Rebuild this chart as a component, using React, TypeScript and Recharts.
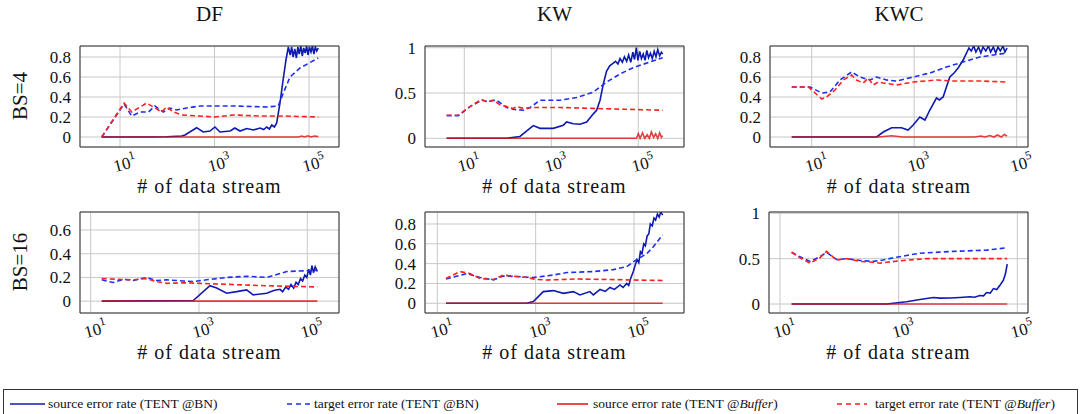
import React from "react";
import { LineChart, Line, XAxis, YAxis, CartesianGrid } from "recharts";

type Pt = [number, number];

const FONT = "Liberation Serif";

// series colours
const SRC_BN = "#0d1ab0";
const TGT_BN = "#1f2ff0";
const SRC_BUF = "#e01010";
const TGT_BUF = "#ff2020";

const columnTitles = ["DF", "KW", "KWC"];
const rowTitles = ["BS=4", "BS=16"];
const xTicks = [10, 1000, 100000];
const xLabel = "# of data stream";

// ---- DF, BS=4 ----
const dfB4SrcBN: Pt[] = [[4.1, 0], [50, 0], [97, 0.003], [202, 0.01], [238, 0.02], [417, 0.093], [576, 0.05], [803, 0.06], [1020, 0.1], [1307, 0.05], [2140, 0.06], [2690, 0.09], [3470, 0.06], [4800, 0.085], [6640, 0.07], [9180, 0.09], [11000, 0.075], [12700, 0.1], [14500, 0.08], [16300, 0.12], [18500, 0.1], [20700, 0.14], [24300, 0.34], [27700, 0.54], [32500, 0.77], [36500, 0.9], [40000, 0.82], [43000, 0.9], [46000, 0.8], [50000, 0.88], [54000, 0.79], [58000, 0.9], [62000, 0.83], [67000, 0.91], [72000, 0.81], [77000, 0.89], [83000, 0.84], [89000, 0.91], [95000, 0.82], [102000, 0.9], [110000, 0.85], [118000, 0.91], [127000, 0.83], [136000, 0.9], [146000, 0.86], [157000, 0.89]];
const dfB4TgtBN: Pt[] = [[4.1, 0], [12.2, 0.33], [17.7, 0.21], [26.5, 0.25], [40, 0.25], [55, 0.31], [83, 0.25], [114, 0.29], [158, 0.27], [258, 0.29], [490, 0.31], [2500, 0.31], [12600, 0.3], [22300, 0.31], [28600, 0.44], [39600, 0.6], [64600, 0.69], [157000, 0.79]];
const dfB4SrcBuf: Pt[] = [[4.1, 0], [60000, 0], [70000, 0.01], [80000, 0], [95000, 0.012], [110000, 0], [130000, 0.01], [157000, 0.004]];
const dfB4TgtBuf: Pt[] = [[4.1, 0], [12.2, 0.34], [17.7, 0.25], [36.6, 0.34], [50.7, 0.3], [76, 0.25], [97, 0.3], [135, 0.25], [202, 0.22], [490, 0.21], [1000, 0.2], [2500, 0.22], [9100, 0.21], [28600, 0.21], [157000, 0.2]];

// ---- KW, BS=4 ----
const kwB4SrcBN: Pt[] = [[3.93, 0], [94, 0], [190, 0.02], [385, 0.14], [550, 0.11], [1110, 0.11], [1890, 0.145], [2250, 0.18], [3200, 0.16], [4570, 0.155], [6500, 0.18], [9250, 0.27], [11000, 0.31], [13200, 0.42], [15700, 0.6], [18600, 0.74], [22000, 0.8], [26600, 0.83], [30000, 0.85], [34000, 0.82], [38000, 0.88], [43000, 0.84], [48000, 0.9], [54000, 0.85], [60000, 0.92], [67000, 0.84], [75000, 0.95], [82000, 0.87], [90000, 1.0], [98000, 0.86], [108000, 0.96], [118000, 0.88], [130000, 0.93], [143000, 0.86], [157000, 0.97], [172000, 0.89], [190000, 0.94], [210000, 0.88], [232000, 0.96], [255000, 0.9], [280000, 0.98], [310000, 0.91], [340000, 0.95], [363000, 0.93]];
const kwB4TgtBN: Pt[] = [[3.93, 0.25], [7.3, 0.25], [13.5, 0.35], [25, 0.42], [32.5, 0.41], [55, 0.42], [94, 0.34], [134, 0.32], [227, 0.31], [324, 0.34], [550, 0.42], [1580, 0.42], [3800, 0.45], [9250, 0.51], [18600, 0.62], [38000, 0.71], [76700, 0.78], [155000, 0.83], [363000, 0.89]];
const kwB4SrcBuf: Pt[] = [[3.93, 0], [91000, 0], [100000, 0.05], [110000, 0], [125000, 0.06], [140000, 0], [160000, 0.04], [180000, 0], [200000, 0.07], [225000, 0.01], [250000, 0.05], [280000, 0], [310000, 0.06], [340000, 0.01], [363000, 0.03]];
const kwB4TgtBuf: Pt[] = [[3.93, 0.254], [7.3, 0.254], [13.5, 0.35], [25, 0.43], [32.5, 0.4], [46.4, 0.42], [66, 0.37], [94, 0.35], [134, 0.33], [159, 0.35], [227, 0.33], [385, 0.34], [1580, 0.34], [9250, 0.33], [53700, 0.32], [363000, 0.31]];

// ---- KWC, BS=4 ----
const kwcB4SrcBN: Pt[] = [[4.08, 0], [185, 0], [249, 0.05], [363, 0.093], [563, 0.093], [760, 0.07], [956, 0.12], [1290, 0.2], [1620, 0.17], [2020, 0.27], [2720, 0.39], [3100, 0.37], [3670, 0.4], [4950, 0.6], [6000, 0.64], [7200, 0.69], [9020, 0.77], [11700, 0.89], [13000, 0.86], [14500, 0.91], [16000, 0.85], [18000, 0.9], [20000, 0.84], [22000, 0.9], [25000, 0.86], [28000, 0.91], [31000, 0.85], [35000, 0.9], [39000, 0.84], [43000, 0.9], [48000, 0.86], [54000, 0.91], [59000, 0.85], [64800, 0.89]];
const kwcB4TgtBN: Pt[] = [[4.08, 0.5], [9.3, 0.5], [15.7, 0.44], [22.8, 0.45], [35.5, 0.57], [60, 0.65], [87, 0.6], [137, 0.57], [185, 0.6], [288, 0.57], [453, 0.56], [956, 0.6], [2020, 0.64], [4270, 0.7], [9020, 0.75], [19000, 0.8], [34700, 0.82], [64800, 0.84]];
const kwcB4SrcBuf: Pt[] = [[4.08, 0], [200, 0], [363, 0.013], [600, 0], [15000, 0], [20000, 0.01], [24000, 0], [30000, 0.015], [36000, 0], [42000, 0.02], [50000, 0], [57000, 0.025], [64800, 0.01]];
const kwcB4TgtBuf: Pt[] = [[4.08, 0.5], [8.6, 0.5], [15.7, 0.38], [19.6, 0.4], [28.5, 0.47], [41.4, 0.57], [60, 0.62], [75, 0.57], [101, 0.54], [127, 0.59], [158, 0.52], [199, 0.55], [249, 0.54], [453, 0.52], [956, 0.55], [2720, 0.57], [5750, 0.56], [19000, 0.56], [64800, 0.55]];

// ---- DF, BS=16 ----
const dfB16SrcBN: Pt[] = [[16, 0], [785, 0.005], [1590, 0.13], [2120, 0.11], [3240, 0.067], [4950, 0.08], [7580, 0.095], [10000, 0.053], [17800, 0.067], [24000, 0.09], [31400, 0.1], [35000, 0.08], [40000, 0.12], [45000, 0.1], [50000, 0.14], [56000, 0.11], [62000, 0.16], [68000, 0.14], [75000, 0.19], [82000, 0.17], [90000, 0.22], [98000, 0.2], [106000, 0.27], [114000, 0.22], [122000, 0.3], [130000, 0.24], [140000, 0.29], [153000, 0.25]];
const dfB16TgtBN: Pt[] = [[16, 0.18], [26, 0.157], [40, 0.185], [61, 0.174], [108, 0.2], [165, 0.174], [253, 0.18], [513, 0.17], [785, 0.165], [1380, 0.18], [3240, 0.2], [7580, 0.21], [17800, 0.2], [41700, 0.25], [153000, 0.26]];
const dfB16SrcBuf: Pt[] = [[16, 0], [1000, 0], [100000, 0], [153000, 0]];
const dfB16TgtBuf: Pt[] = [[16, 0.19], [30, 0.185], [61, 0.18], [108, 0.19], [165, 0.165], [253, 0.15], [513, 0.155], [1040, 0.15], [4300, 0.14], [17800, 0.13], [153000, 0.12]];

// ---- KW, BS=16 ----
const kwB16SrcBN: Pt[] = [[15, 0], [656, 0], [898, 0.017], [1430, 0.118], [2290, 0.128], [3660, 0.1], [5840, 0.118], [7940, 0.084], [12700, 0.118], [14900, 0.084], [20400, 0.14], [26000, 0.12], [32500, 0.16], [40000, 0.14], [51900, 0.185], [60000, 0.16], [71000, 0.2], [78000, 0.18], [85300, 0.25], [96800, 0.32], [105000, 0.38], [115000, 0.44], [125000, 0.41], [135000, 0.52], [145000, 0.5], [158000, 0.6], [170000, 0.58], [185000, 0.68], [200000, 0.7], [215000, 0.8], [235000, 0.78], [255000, 0.86], [275000, 0.84], [300000, 0.9], [325000, 0.87], [350000, 0.92], [383000, 0.89]];
const kwB16TgtBN: Pt[] = [[15, 0.245], [39.5, 0.3], [74, 0.26], [138, 0.235], [220, 0.275], [411, 0.27], [898, 0.26], [2290, 0.285], [4280, 0.31], [14900, 0.32], [38000, 0.34], [71000, 0.37], [113000, 0.44], [181000, 0.5], [247000, 0.57], [383000, 0.69]];
const kwB16SrcBuf: Pt[] = [[15, 0], [1000, 0], [100000, 0], [383000, 0]];
const kwB16TgtBuf: Pt[] = [[15, 0.25], [28.9, 0.32], [46, 0.3], [74, 0.25], [138, 0.24], [220, 0.285], [411, 0.27], [656, 0.26], [1050, 0.24], [1675, 0.235], [6820, 0.245], [32500, 0.24], [96800, 0.235], [383000, 0.23]];

// ---- KWC, BS=16 ----
const kwcB16SrcBN: Pt[] = [[15.7, 0], [628, 0], [1360, 0.025], [2290, 0.05], [3840, 0.072], [5000, 0.065], [7330, 0.066], [10800, 0.072], [15900, 0.08], [19000, 0.075], [23400, 0.094], [27000, 0.09], [30300, 0.127], [35000, 0.12], [39600, 0.17], [45000, 0.16], [51000, 0.206], [58000, 0.26], [63000, 0.33], [67600, 0.44]];
const kwcB16TgtBN: Pt[] = [[15.7, 0.57], [21.7, 0.52], [32, 0.47], [47, 0.52], [61, 0.57], [90, 0.49], [133, 0.5], [223, 0.48], [374, 0.47], [550, 0.485], [815, 0.51], [2290, 0.56], [8320, 0.58], [30300, 0.594], [67600, 0.62]];
const kwcB16SrcBuf: Pt[] = [[15.7, 0], [1000, 0], [30000, 0], [67600, 0]];
const kwcB16TgtBuf: Pt[] = [[15.7, 0.57], [21.7, 0.51], [32, 0.45], [47, 0.51], [61, 0.58], [90, 0.485], [133, 0.5], [223, 0.47], [374, 0.46], [484, 0.45], [628, 0.46], [1200, 0.48], [2970, 0.5], [8320, 0.5], [67600, 0.5]];

const legendLabels = [
  "source error rate (TENT @BN)",
  "target error rate (TENT @BN)",
  "source error rate (TENT @",
  "target error rate (TENT @",
];

interface PanelDef {
  left: number;
  top: number;
  w: number;
  h: number;
  xDomain: [number, number];
  yDomain: [number, number];
  yTicks: number[];
  srcBN: Pt[];
  tgtBN: Pt[];
  srcBuf: Pt[];
  tgtBuf: Pt[];
}

const panels: PanelDef[] = [
  { left: 80, top: 46, w: 259, h: 101, xDomain: [1.423, 431000], yDomain: [-0.1, 0.91], yTicks: [0, 0.2, 0.4, 0.6, 0.8], srcBN: dfB4SrcBN, tgtBN: dfB4TgtBN, srcBuf: dfB4SrcBuf, tgtBuf: dfB4TgtBuf },
  { left: 425, top: 46, w: 259, h: 101, xDomain: [1.249, 1124000], yDomain: [-0.096, 1.019], yTicks: [0, 0.5, 1], srcBN: kwB4SrcBN, tgtBN: kwB4TgtBN, srcBuf: kwB4SrcBuf, tgtBuf: kwB4TgtBuf },
  { left: 770, top: 46, w: 258, h: 101, xDomain: [1.536, 166200], yDomain: [-0.1, 0.91], yTicks: [0, 0.2, 0.4, 0.6, 0.8], srcBN: kwcB4SrcBN, tgtBN: kwcB4TgtBN, srcBuf: kwcB4SrcBuf, tgtBuf: kwcB4TgtBuf },
  { left: 80, top: 212, w: 259, h: 101, xDomain: [6.345, 384900], yDomain: [-0.1, 0.752], yTicks: [0, 0.2, 0.4, 0.6], srcBN: dfB16SrcBN, tgtBN: dfB16TgtBN, srcBuf: dfB16SrcBuf, tgtBuf: dfB16TgtBuf },
  { left: 425, top: 212, w: 259, h: 101, xDomain: [5.62, 1039000], yDomain: [-0.098, 0.921], yTicks: [0, 0.2, 0.4, 0.6, 0.8], srcBN: kwB16SrcBN, tgtBN: kwB16TgtBN, srcBuf: kwB16SrcBuf, tgtBuf: kwB16TgtBuf },
  { left: 769, top: 212, w: 259, h: 101, xDomain: [6.525, 151500], yDomain: [-0.099, 1.014], yTicks: [0, 0.5, 1], srcBN: kwcB16SrcBN, tgtBN: kwcB16TgtBN, srcBuf: kwcB16SrcBuf, tgtBuf: kwcB16TgtBuf },
];

const serif: React.CSSProperties = { fontFamily: FONT };

function PowTick(props: any) {
  const { x, y, payload } = props;
  const exp = Math.round(Math.log10(payload.value));
  return (
    <g transform={`translate(${x + 5},${y + 17}) rotate(-15)`}>
      <text textAnchor="middle" dominantBaseline="central" fontSize={17} fill="#111" style={serif}>
        10
        <tspan dy={-7} fontSize={12}>
          {exp}
        </tspan>
      </text>
    </g>
  );
}

function ValueTick(props: any) {
  const { x, y, payload } = props;
  return (
    <text x={x} y={y} dy="0.35em" textAnchor="end" fontSize={17} fill="#111" style={serif}>
      {String(payload.value)}
    </text>
  );
}

function AxisTitle(props: any) {
  const vb = props.viewBox || {};
  return (
    <text x={vb.x + vb.width / 2} y={vb.y + 46} textAnchor="middle" fontSize={20} fill="#111" letterSpacing={1} style={serif}>
      {xLabel}
    </text>
  );
}

const toRows = (pts: Pt[]) => pts.map(([x, y]) => ({ x, y }));

function Panel({ p }: { p: PanelDef }) {
  const series = [
    { key: "srcBN", pts: p.srcBN, color: SRC_BN, dash: undefined, opacity: 1 },
    { key: "tgtBN", pts: p.tgtBN, color: TGT_BN, dash: "5 3", opacity: 1 },
    { key: "srcBuf", pts: p.srcBuf, color: SRC_BUF, dash: undefined, opacity: 0.8 },
    { key: "tgtBuf", pts: p.tgtBuf, color: TGT_BUF, dash: "5 3", opacity: 1 },
  ];
  const box = { stroke: "#333", strokeWidth: 1 };
  return (
    <div style={{ position: "absolute", left: p.left - 60, top: p.top - 10 }}>
      <LineChart width={p.w + 70} height={p.h + 65} margin={{ top: 10, right: 10, bottom: 0, left: 0 }}>
        <CartesianGrid stroke="#c8c8c8" />
        <XAxis
          dataKey="x"
          type="number"
          scale="log"
          domain={p.xDomain}
          ticks={xTicks}
          interval={0}
          allowDataOverflow
          height={55}
          tickLine={false}
          tickSize={0}
          tickMargin={0}
          axisLine={box}
          tick={<PowTick />}
          label={<AxisTitle />}
        />
        <XAxis xAxisId="bm" dataKey="x" type="number" scale="log" domain={p.xDomain} ticks={xTicks} interval={0} allowDataOverflow orientation="bottom" mirror height={10} tick={false} tickSize={4} tickLine={box} axisLine={false} />
        <XAxis xAxisId="tm" dataKey="x" type="number" scale="log" domain={p.xDomain} ticks={xTicks} interval={0} allowDataOverflow orientation="top" mirror height={10} tick={false} tickSize={4} tickLine={box} axisLine={box} />
        <YAxis
          type="number"
          domain={p.yDomain}
          ticks={p.yTicks}
          interval={0}
          allowDataOverflow
          width={60}
          tickLine={false}
          tickSize={0}
          tickMargin={9}
          axisLine={box}
          tick={<ValueTick />}
        />
        <YAxis yAxisId="lm" type="number" domain={p.yDomain} ticks={p.yTicks} interval={0} allowDataOverflow orientation="left" mirror width={10} tick={false} tickSize={4} tickLine={box} axisLine={false} />
        <YAxis yAxisId="rm" type="number" domain={p.yDomain} ticks={p.yTicks} interval={0} allowDataOverflow orientation="right" mirror width={10} tick={false} tickSize={4} tickLine={box} axisLine={box} />
        {series.map((s) => (
          <Line
            key={s.key}
            data={toRows(s.pts)}
            dataKey="y"
            type="linear"
            stroke={s.color}
            strokeOpacity={s.opacity}
            strokeWidth={1.6}
            strokeDasharray={s.dash}
            dot={false}
            activeDot={false}
            isAnimationActive={false}
          />
        ))}
      </LineChart>
    </div>
  );
}

function LegendSample({ left, width, color, dashed }: { left: number; width: number; color: string; dashed: boolean }) {
  return (
    <svg style={{ position: "absolute", left, top: 398 }} width={width} height={12}>
      <line x1={0} y1={6} x2={width} y2={6} stroke={color} strokeWidth={1.5} strokeDasharray={dashed ? "5 4" : undefined} />
    </svg>
  );
}

export default function App() {
  const textStyle: React.CSSProperties = { position: "absolute", top: 396, fontSize: 13.5, lineHeight: "16px", whiteSpace: "nowrap", color: "#111" };
  return (
    <div style={{ position: "absolute", left: 0, top: 0, width: 1081, height: 414, background: "#fff", overflow: "hidden", fontFamily: FONT }}>
      {panels.slice(0, 3).map((p, i) => (
        <div key={columnTitles[i]} style={{ position: "absolute", left: p.left + p.w / 2 - 60, width: 120, top: 2, textAlign: "center", fontSize: 21, lineHeight: "24px", color: "#111" }}>
          {columnTitles[i]}
        </div>
      ))}
      {rowTitles.map((t, i) => {
        const p = panels[i * 3];
        return (
          <div key={t} style={{ position: "absolute", left: 20, top: p.top + p.h / 2 - 1, fontSize: 21, lineHeight: "21px", whiteSpace: "nowrap", color: "#111", transform: "translate(-50%, -50%) rotate(-90deg)" }}>
            {t}
          </div>
        );
      })}
      {panels.map((p, i) => (
        <Panel key={i} p={p} />
      ))}
      <div style={{ position: "absolute", left: 3, top: 389, width: 1075, height: 40, border: "1px solid #333", boxSizing: "border-box" }} />
      <LegendSample left={10} width={35} color={SRC_BN} dashed={false} />
      <span style={{ ...textStyle, left: 48 }}>{legendLabels[0]}</span>
      <LegendSample left={287} width={24} color={TGT_BN} dashed />
      <span style={{ ...textStyle, left: 314 }}>{legendLabels[1]}</span>
      <LegendSample left={557} width={31} color={SRC_BUF} dashed={false} />
      <span style={{ ...textStyle, left: 593 }}>
        {legendLabels[2]}
        <i>Buffer</i>)
      </span>
      <LegendSample left={837} width={30} color={TGT_BUF} dashed />
      <span style={{ ...textStyle, left: 875 }}>
        {legendLabels[3]}
        <i>Buffer</i>)
      </span>
    </div>
  );
}
